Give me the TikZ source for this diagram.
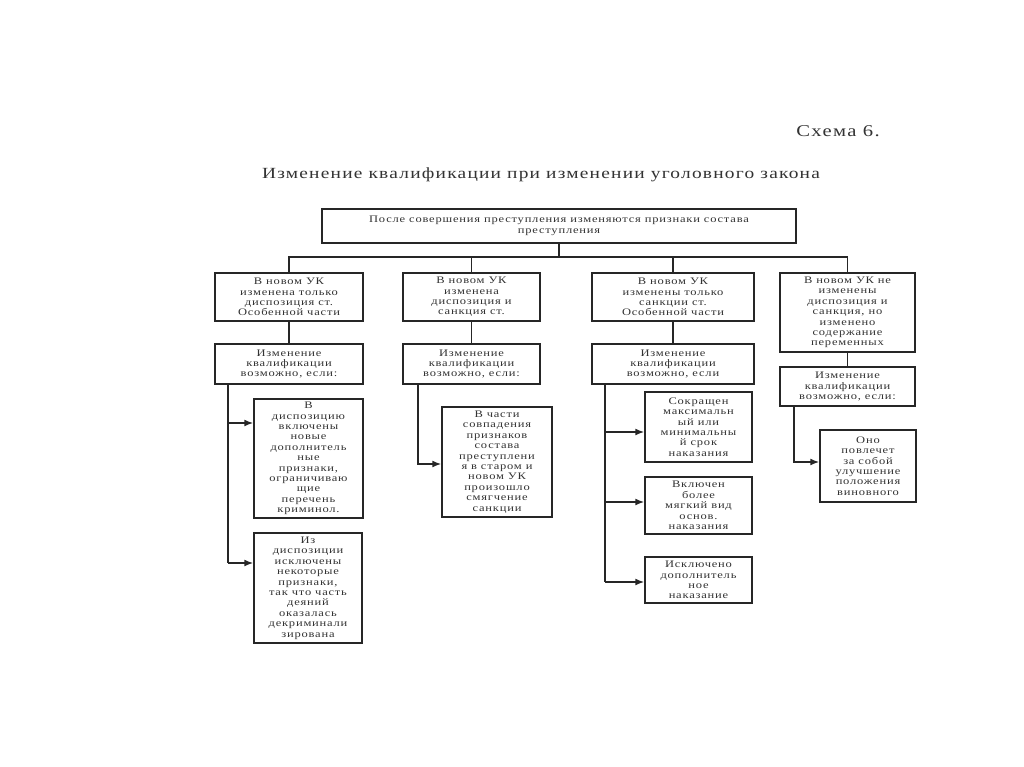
\documentclass[tikz,border=0pt]{standalone}
\usepackage{fontspec}
\setmainfont{Liberation Serif}[FakeStretch=1.25,LetterSpace=8]
\usetikzlibrary{arrows.meta}
\tikzset{
  box/.style={draw=black!85, line width=1.5pt, inner sep=0pt, align=center,
    font=\fontsize{10pt}{10.4pt}\selectfont, text=black!80},
  conn/.style={draw=black!85, line width=1.5pt},
  arr/.style={conn, -{Latex[length=9pt,width=7pt]}},
  ttl/.style={inner sep=0pt, font=\fontsize{15.5pt}{18pt}\selectfont, text=black!80}
}
\begin{document}
\begin{tikzpicture}[x=1pt,y=-1pt]
\useasboundingbox[fill=white] (0,0) rectangle (1024,767);

\node[ttl, font=\fontsize{16.5pt}{18pt}\selectfont] (schema) at (838,131) {Схема 6.};
\node[ttl] (title) at (541,175) {Изменение квалификации при изменении уголовного закона};

\node[box, minimum width=474pt, minimum height=34pt] (top) at (559,226)
  {После совершения преступления изменяются признаки состава\\преступления};

\node[box, minimum width=148pt, minimum height=48pt] (a1) at (289,297)
  {В новом УК\\изменена только\\диспозиция ст.\\Особенной части};
\node[box, minimum width=137pt, minimum height=48pt] (b1) at (471.5,297)
  {В новом УК\\изменена\\диспозиция и\\санкция ст.};
\node[box, minimum width=162pt, minimum height=48pt] (c1) at (673,297)
  {В новом УК\\изменены только\\санкции ст.\\Особенной части};
\node[box, minimum width=135pt, minimum height=79pt] (d1) at (847.5,312.5)
  {В новом УК не\\изменены\\диспозиция и\\санкция, но\\изменено\\содержание\\переменных};

\node[box, minimum width=148pt, minimum height=40pt] (a2) at (289,364)
  {Изменение\\квалификации\\возможно, если:};
\node[box, minimum width=137pt, minimum height=40pt] (b2) at (471.5,364)
  {Изменение\\квалификации\\возможно, если:};
\node[box, minimum width=162pt, minimum height=40pt] (c2) at (673,364)
  {Изменение\\квалификации\\возможно, если};
\node[box, minimum width=135pt, minimum height=39pt] (d2) at (847.5,386.5)
  {Изменение\\квалификации\\возможно, если:};

\node[box, minimum width=109pt, minimum height=119pt] (a3) at (308.5,458.5)
  {В\\диспозицию\\включены\\новые\\дополнитель\\ные\\признаки,\\ограничиваю\\щие\\перечень\\криминол.};
\node[box, minimum width=108pt, minimum height=110pt] (a4) at (308,588)
  {Из\\диспозиции\\исключены\\некоторые\\признаки,\\так что часть\\деяний\\оказалась\\декриминали\\зирована};
\node[box, minimum width=110pt, minimum height=110pt] (b3) at (497,462)
  {В части\\совпадения\\признаков\\состава\\преступлени\\я в старом и\\новом УК\\произошло\\смягчение\\санкции};
\node[box, minimum width=107pt, minimum height=70pt] (c3) at (698.5,427)
  {Сокращен\\максимальн\\ый или\\минимальны\\й срок\\наказания};
\node[box, minimum width=107pt, minimum height=57pt] (c4) at (698.5,505.5)
  {Включен\\более\\мягкий вид\\основ.\\наказания};
\node[box, minimum width=107pt, minimum height=46pt] (c5) at (698.5,580)
  {Исключено\\дополнитель\\ное\\наказание};
\node[box, minimum width=96pt, minimum height=72pt] (d3) at (868,466)
  {Оно\\повлечет\\за собой\\улучшение\\положения\\виновного};

% bus from top box
\coordinate (bus) at (559,257);
\draw[conn] (top.south) -- (bus);
\draw[conn] (a1.north) |- (bus) -| (d1.north);
\draw[conn] (b1.north) -- (b1.north |- bus);
\draw[conn] (c1.north) -- (c1.north |- bus);

% row1 -> row2
\draw[conn] (a1) -- (a2);
\draw[conn] (b1) -- (b2);
\draw[conn] (c1) -- (c2);
\draw[conn] (d1) -- (d2);

% column A
\coordinate (ja1) at (228,423);
\coordinate (ja2) at (228,563);
\draw[conn] (a2.south -| ja1) -- (ja2);
\draw[arr] (ja1) -- (a3.west |- ja1);
\draw[arr] (ja2) -- (a4.west |- ja2);

% column B
\coordinate (jb1) at (418,464);
\draw[arr] (b2.south -| jb1) -- (jb1) -- (b3.west |- jb1);

% column C
\coordinate (jc1) at (605,432);
\coordinate (jc2) at (605,502);
\coordinate (jc3) at (605,582);
\draw[conn] (c2.south -| jc1) -- (jc3);
\draw[arr] (jc1) -- (c3.west |- jc1);
\draw[arr] (jc2) -- (c4.west |- jc2);
\draw[arr] (jc3) -- (c5.west |- jc3);

% column D
\coordinate (jd1) at (794,462);
\draw[arr] (d2.south -| jd1) -- (jd1) -- (d3.west |- jd1);
\end{tikzpicture}
\end{document}
